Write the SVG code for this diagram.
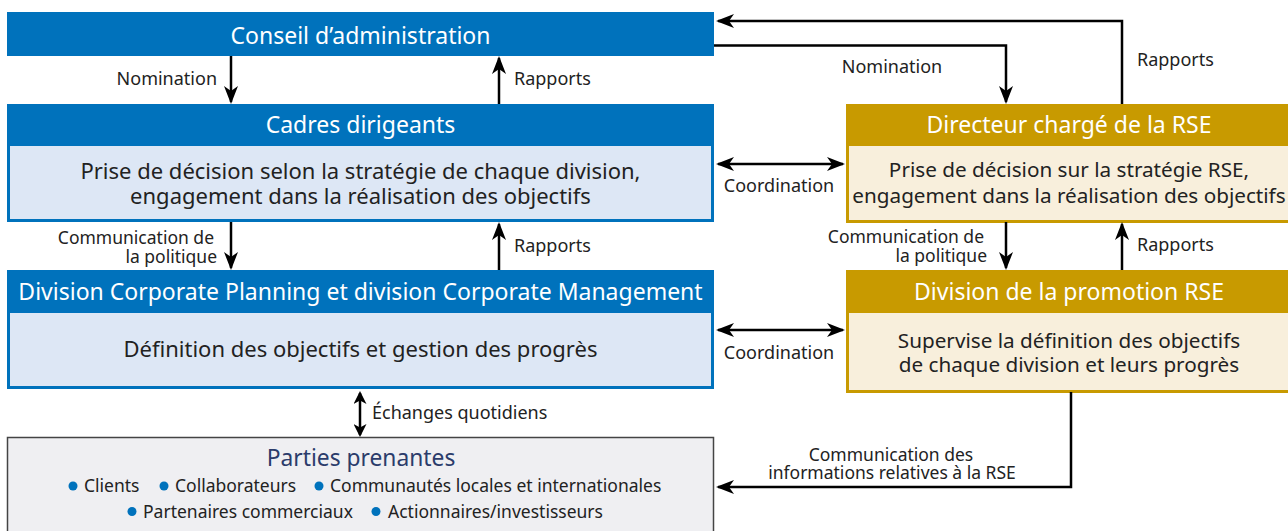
<svg xmlns="http://www.w3.org/2000/svg" width="1288" height="531" viewBox="0 0 1288 531">
<style>
text{font-family:"Noto Sans","Open Sans","DejaVu Sans",sans-serif;}
.hdr{font-size:23px;fill:#ffffff;text-anchor:middle;}
.body{font-size:22px;fill:#222222;text-anchor:middle;}
.bodyr{font-size:20.7px;fill:#222222;text-anchor:middle;}
.lbl{font-size:18px;fill:#222222;}
.lbl2{font-size:17.5px;fill:#222222;}
.lst{font-size:17.5px;fill:#222222;}
.ln{fill:none;stroke:#000000;stroke-width:2.5;}
.blue{fill:#0072BC;}
.gold{fill:#C89A00;}
.dot{fill:#0072BC;}
</style>
<defs>
<marker id="ah" viewBox="0 0 18 14" refX="16" refY="7" markerWidth="18" markerHeight="14" markerUnits="userSpaceOnUse" orient="auto-start-reverse">
<path d="M0,0 L18,7 L0,14 L5,7 Z" fill="#000000"/>
</marker>
<marker id="ahs" viewBox="0 0 13 13" refX="11" refY="6.5" markerWidth="13" markerHeight="13" markerUnits="userSpaceOnUse" orient="auto-start-reverse">
<path d="M0,0 L13,6.5 L0,13 L3.5,6.5 Z" fill="#000000"/>
</marker>
</defs>
<rect width="1288" height="531" fill="#ffffff"/>

<g id="conseil">
<rect x="7" y="12" width="707" height="44" class="blue"/>
<text class="hdr" x="360.5" y="44">Conseil d’administration</text>
</g>

<g id="cadres">
<rect x="8.5" y="105.5" width="704" height="115" fill="#DDE7F5" stroke="#0072BC" stroke-width="3"/>
<rect x="7" y="104" width="707" height="42" class="blue"/>
<text class="hdr" x="360.5" y="133">Cadres dirigeants</text>
<text class="body" x="360.5" y="179">Prise de décision selon la stratégie de chaque division,</text>
<text class="body" x="360.5" y="204">engagement dans la réalisation des objectifs</text>
</g>

<g id="corporate">
<rect x="8.5" y="271.5" width="704" height="116" fill="#DDE7F5" stroke="#0072BC" stroke-width="3"/>
<rect x="7" y="270" width="707" height="43" class="blue"/>
<text class="hdr" x="360.5" y="300">Division Corporate Planning et division Corporate Management</text>
<text class="body" x="360.5" y="357">Définition des objectifs et gestion des progrès</text>
</g>

<g id="parties">
<rect x="7.5" y="437.5" width="706" height="100" fill="#EFEFF2" stroke="#444444" stroke-width="1.5"/>
<text x="361" y="466" text-anchor="middle" style="font-size:22.8px;fill:#2B3C6B">Parties prenantes</text>
<circle cx="73" cy="486" r="4.5" class="dot"/>
<circle cx="164" cy="486" r="4.5" class="dot"/>
<circle cx="319" cy="486" r="4.5" class="dot"/>
<circle cx="132" cy="511.5" r="4.5" class="dot"/>
<circle cx="376" cy="511.5" r="4.5" class="dot"/>
<text class="lst" x="84" y="492">Clients</text>
<text class="lst" x="175" y="492">Collaborateurs</text>
<text class="lst" x="330" y="492">Communautés locales et internationales</text>
<text class="lst" x="143" y="517.5">Partenaires commerciaux</text>
<text class="lst" x="388" y="517.5">Actionnaires/investisseurs</text>
</g>

<g id="directeur">
<rect x="847.5" y="105.5" width="445" height="116" fill="#F8EFDC" stroke="#C89A00" stroke-width="3"/>
<rect x="846" y="104" width="446" height="42" class="gold"/>
<text class="hdr" x="1069" y="133">Directeur chargé de la RSE</text>
<text class="bodyr" x="1069" y="177">Prise de décision sur la stratégie RSE,</text>
<text class="bodyr" x="1069" y="203">engagement dans la réalisation des objectifs</text>
</g>

<g id="promotion">
<rect x="847.5" y="271.5" width="445" height="120" fill="#F8EFDC" stroke="#C89A00" stroke-width="3"/>
<rect x="846" y="270" width="446" height="43" class="gold"/>
<text class="hdr" x="1069" y="300">Division de la promotion RSE</text>
<text class="bodyr" x="1069" y="348">Supervise la définition des objectifs</text>
<text class="bodyr" x="1069" y="372">de chaque division et leurs progrès</text>
</g>

<g id="connectors">
<path class="ln" d="M231,56 V102" marker-end="url(#ah)"/>
<path class="ln" d="M499,104 V58" marker-end="url(#ah)"/>
<path class="ln" d="M714,45.5 H1006 V102" marker-end="url(#ah)"/>
<path class="ln" d="M1122,104 V21 H718" marker-end="url(#ah)"/>
<path class="ln" d="M718,164 H843" marker-start="url(#ah)" marker-end="url(#ah)"/>
<path class="ln" d="M718,330 H843" marker-start="url(#ah)" marker-end="url(#ah)"/>
<path class="ln" d="M231,222 V268" marker-end="url(#ah)"/>
<path class="ln" d="M499,270 V224" marker-end="url(#ah)"/>
<path class="ln" d="M1006,222 V268" marker-end="url(#ah)"/>
<path class="ln" d="M1122,270 V224" marker-end="url(#ah)"/>
<path class="ln" d="M360,393 V435" marker-start="url(#ahs)" marker-end="url(#ahs)"/>
<path class="ln" d="M1071,392 V487 H718" marker-end="url(#ah)"/>

<text class="lbl" x="217" y="85" text-anchor="end">Nomination</text>
<text class="lbl" x="514" y="85">Rapports</text>
<text class="lbl" x="892" y="73" text-anchor="middle">Nomination</text>
<text class="lbl" x="1137" y="66">Rapports</text>
<text class="lbl" x="779" y="192" text-anchor="middle">Coordination</text>
<text class="lbl" x="779" y="359" text-anchor="middle">Coordination</text>
<text class="lbl2" text-anchor="end"><tspan x="214" y="244">Communication de</tspan><tspan x="217" y="263">la politique</tspan></text>
<text class="lbl" x="514" y="252">Rapports</text>
<text class="lbl2" text-anchor="end"><tspan x="984" y="243">Communication de</tspan><tspan x="987" y="262">la politique</tspan></text>
<text class="lbl" x="1137" y="251">Rapports</text>
<text class="lbl" x="372" y="419">Échanges quotidiens</text>
<text class="lbl2" text-anchor="middle"><tspan x="891" y="461">Communication des</tspan><tspan x="892" y="479">informations relatives à la RSE</tspan></text>
</g>
</svg>
